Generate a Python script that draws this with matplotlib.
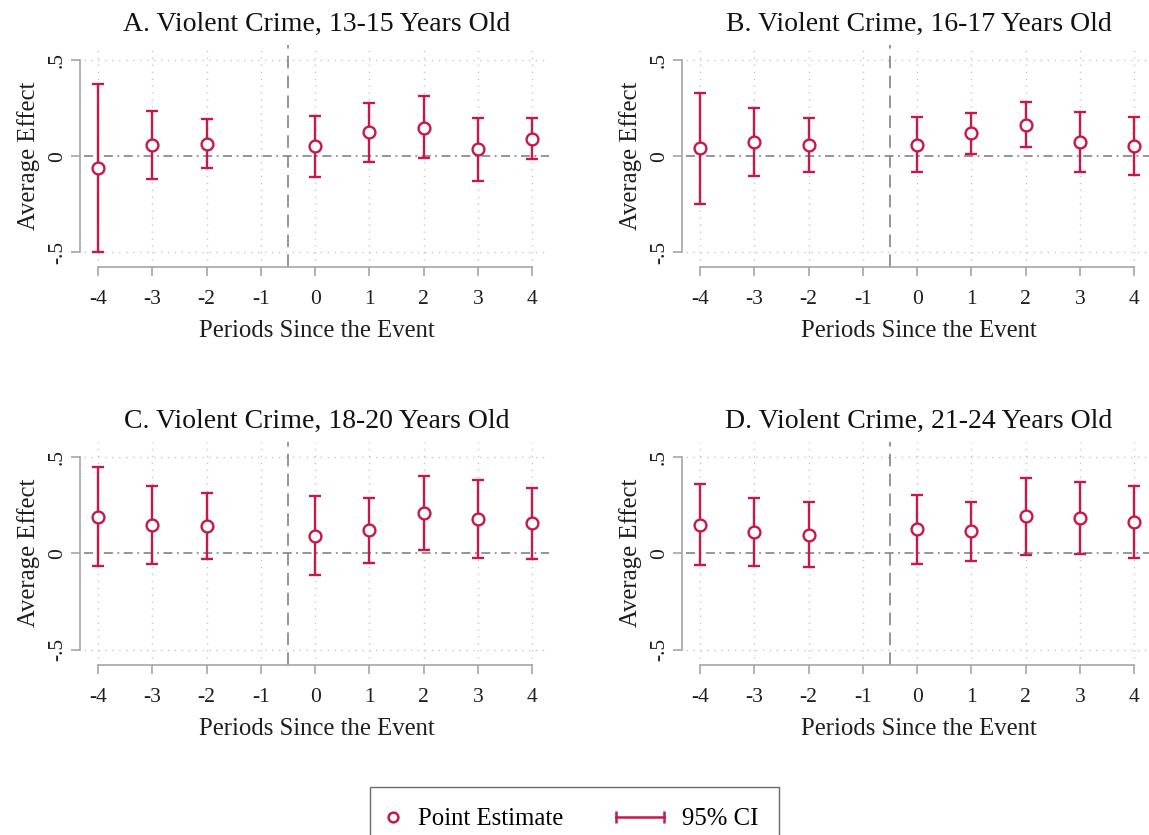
import numpy as np
import matplotlib.pyplot as plt
from matplotlib.lines import Line2D
from matplotlib.legend_handler import HandlerLine2D

plt.rcParams['font.family'] = ['Liberation Serif', 'DejaVu Serif']

periods = [-4, -3, -2, 0, 1, 2, 3, 4]
xticks = [-4, -3, -2, -1, 0, 1, 2, 3, 4]

titles = ['A. Violent Crime, 13-15 Years Old',
          'B. Violent Crime, 16-17 Years Old',
          'C. Violent Crime, 18-20 Years Old',
          'D. Violent Crime, 21-24 Years Old']

est_a = [-0.061, 0.056, 0.064, 0.051, 0.124, 0.148, 0.035, 0.091]
lo_a = [-0.497, -0.118, -0.063, -0.106, -0.028, -0.012, -0.129, -0.017]
hi_a = [0.378, 0.233, 0.195, 0.207, 0.277, 0.312, 0.200, 0.200]

est_b = [0.040, 0.073, 0.056, 0.059, 0.118, 0.162, 0.075, 0.052]
lo_b = [-0.249, -0.101, -0.085, -0.084, 0.010, 0.047, -0.082, -0.096]
hi_b = [0.328, 0.251, 0.200, 0.204, 0.225, 0.280, 0.232, 0.204]

est_c = [0.189, 0.144, 0.141, 0.089, 0.118, 0.208, 0.175, 0.156]
lo_c = [-0.069, -0.057, -0.031, -0.115, -0.049, 0.017, -0.026, -0.028]
hi_c = [0.448, 0.347, 0.314, 0.297, 0.285, 0.399, 0.380, 0.340]

est_d = [0.148, 0.109, 0.095, 0.123, 0.113, 0.193, 0.181, 0.161]
lo_d = [-0.063, -0.066, -0.071, -0.054, -0.040, -0.007, -0.003, -0.026]
hi_d = [0.361, 0.286, 0.264, 0.300, 0.266, 0.392, 0.368, 0.349]

red = '#C8174A'
axis_gray = '#A6A6A6'
ref_gray = '#8C8C8C'
text_col = '#1E1E1E'


class PointHandler(HandlerLine2D):
    # single marker is drawn at the middle of xdata, so shift xdata left
    def get_xdata(self, legend, xdescent, ydescent, width, height, fontsize):
        xd = np.array([-xdescent - 0.2 * width, -xdescent + 0.5 * width])
        return xd, xd


class CIHandler(HandlerLine2D):
    # capped bar reaching left of its handle box
    def get_xdata(self, legend, xdescent, ydescent, width, height, fontsize):
        xd = np.array([-xdescent - 2.6 * width, -xdescent + 0.6 * width])
        return xd, xd


fig = plt.figure(figsize=(11.49, 8.35), dpi=100)

rects = [[0.0735, 0.680, 0.404, 0.266],
         [0.5974, 0.680, 0.404, 0.266],
         [0.0735, 0.204, 0.404, 0.267],
         [0.5974, 0.204, 0.404, 0.267]]
panels = [(est_a, lo_a, hi_a), (est_b, lo_b, hi_b),
          (est_c, lo_c, hi_c), (est_d, lo_d, hi_d)]

for rect, title, (est, lo, hi) in zip(rects, titles, panels):
    ax = fig.add_axes(rect)
    ax.set_xlim(-4.25, 4.3)
    ax.set_ylim(-0.578, 0.578)

    # grid
    for xv in xticks:
        ax.axvline(xv, color='#C8C8C8', lw=1.0, ls=(0, (1, 4)), zorder=0)
    for yv in [-0.5, 0.5]:
        ax.axhline(yv, color='#C8C8C8', lw=1.0, ls=(0, (1, 4)), zorder=0)

    ax.axhline(0, color=ref_gray, lw=1.3, ls=(0, (5, 2.5, 1, 2.5)), zorder=1)
    ax.axvline(-0.5, color=ref_gray, lw=1.3, ls=(0, (7, 4)), zorder=1)

    yerr = [[e - l for e, l in zip(est, lo)], [h - e for e, h in zip(est, hi)]]
    ax.errorbar(periods, est, yerr=yerr, fmt='none', ecolor=red,
                elinewidth=1.7, capsize=4.5, capthick=1.7, zorder=3)
    ax.plot(periods, est, 'o', mfc='white', mec=red, mew=1.7, ms=8.5, zorder=4)

    for s in ['top', 'right']:
        ax.spines[s].set_visible(False)
    ax.spines['left'].set_position(('outward', 3))
    ax.spines['left'].set_bounds(-0.5, 0.5)
    ax.spines['bottom'].set_bounds(-4, 4)
    for s in ['left', 'bottom']:
        ax.spines[s].set_color(axis_gray)
        ax.spines[s].set_linewidth(1.2)

    ax.set_xticks(xticks)
    ax.set_xticklabels([str(v) for v in xticks])
    ax.set_yticks([-0.5, 0, 0.5])
    ax.set_yticklabels(['-.5', '0', '.5'], rotation=90, va='center')
    ax.tick_params(colors=axis_gray, labelcolor=text_col, width=1.2,
                   length=6.5, labelsize=15.5)
    ax.tick_params(axis='x', pad=10)
    ax.tick_params(axis='y', pad=3)
    ax.set_xlabel('Periods Since the Event', fontsize=17.8, color=text_col, labelpad=8)
    ax.set_ylabel('Average Effect', fontsize=17.8, color=text_col, labelpad=6)
    ax.set_title(title, fontsize=20, color='#111111', pad=10)

h_pt = Line2D([], [], ls='none', marker='o', mfc='white', mec=red, mew=1.8, ms=7)
h_ci = Line2D([], [], color=red, lw=1.8, marker='|', ms=9, mew=1.8)
leg = fig.legend([h_pt, h_ci], ['Point Estimate', '95% CI'],
                 loc='upper center', bbox_to_anchor=(0.5, 1 - 787 / 835),
                 borderaxespad=0,
                 ncol=2, fontsize=17.8, frameon=True, fancybox=False,
                 edgecolor='#444444', handlelength=0.6, handletextpad=0.5,
                 columnspacing=3.7, borderpad=0.85,
                 handler_map={h_pt: PointHandler(numpoints=1),
                              h_ci: CIHandler(numpoints=2)})
leg.get_frame().set_linewidth(1.0)

fig.savefig('out.png', dpi=100)
